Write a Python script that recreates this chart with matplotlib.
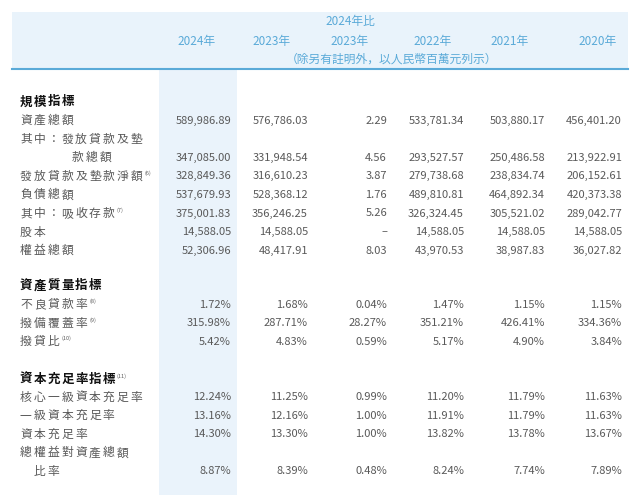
import matplotlib
matplotlib.use('agg')
import matplotlib.pyplot as plt
from matplotlib.patches import Rectangle

plt.rcParams['font.family'] = ['Noto Sans CJK JP', 'Noto Sans CJK TC', 'DejaVu Sans']

years = ['2024年', '2023年', '2023年', '2022年', '2021年', '2020年']

scale_labels = ['資產總額', '其中：發放貸款及墊', '款總額', '發放貸款及墊款淨額', '負債總額', '其中：吸收存款', '股本', '權益總額']
scale_notes = ['', '', '', '(6)', '', '(7)', '', '']
scale_vals = [
    ['589,986.89', '576,786.03', '2.29', '533,781.34', '503,880.17', '456,401.20'],
    None,
    ['347,085.00', '331,948.54', '4.56', '293,527.57', '250,486.58', '213,922.91'],
    ['328,849.36', '316,610.23', '3.87', '279,738.68', '238,834.74', '206,152.61'],
    ['537,679.93', '528,368.12', '1.76', '489,810.81', '464,892.34', '420,373.38'],
    ['375,001.83', '356,246.25', '5.26', '326,324.45', '305,521.02', '289,042.77'],
    ['14,588.05', '14,588.05', '–', '14,588.05', '14,588.05', '14,588.05'],
    ['52,306.96', '48,417.91', '8.03', '43,970.53', '38,987.83', '36,027.82'],
]
quality_labels = ['不良貸款率', '撥備覆蓋率', '撥貸比']
quality_notes = ['(8)', '(9)', '(10)']
quality_vals = [
    ['1.72%', '1.68%', '0.04%', '1.47%', '1.15%', '1.15%'],
    ['315.98%', '287.71%', '28.27%', '351.21%', '426.41%', '334.36%'],
    ['5.42%', '4.83%', '0.59%', '5.17%', '4.90%', '3.84%'],
]
capital_labels = ['核心一級資本充足率', '一級資本充足率', '資本充足率', '總權益對資產總額', '比率']
capital_vals = [
    ['12.24%', '11.25%', '0.99%', '11.20%', '11.79%', '11.63%'],
    ['13.16%', '12.16%', '1.00%', '11.91%', '11.79%', '11.63%'],
    ['14.30%', '13.30%', '1.00%', '13.82%', '13.78%', '13.67%'],
    None,
    ['8.87%', '8.39%', '0.48%', '8.24%', '7.74%', '7.89%'],
]

blue = '#5aaad8'
grey = '#595959'
col_right = [231, 308, 387, 464, 545, 622]
col_head = [197, 272, 350, 433, 510, 598]
pitch = 13.8

fig = plt.figure(figsize=(6.4, 4.95), dpi=100)
ax = fig.add_axes([0, 0, 1, 1])
ax.set_xlim(0, 640)
ax.set_ylim(495, 0)
ax.axis('off')

# header band, rule and highlighted 2024 column
ax.add_patch(Rectangle((12, 12), 616, 56, color='#e9f3fb', lw=0))
ax.plot([12, 628], [68.5, 68.5], color=blue, lw=1.5)
ax.add_patch(Rectangle((159, 70), 78, 425, color='#eaf3fb', lw=0))

ax.text(350, 22, '2024年比', color=blue, fontsize=8.5, ha='center', va='center')
for x, y in zip(col_head, years):
    ax.text(x, 42, y, color=blue, fontsize=8.5, ha='center', va='center')
ax.text(392, 59, '（除另有註明外，以人民幣百萬元列示）', color=blue, fontsize=8.5,
        ha='center', va='center', style='italic')

def spaced(x, y, s, **kw):
    # draw characters one by one to mimic the wide letter spacing
    for i, ch in enumerate(s):
        ax.text(x + i * pitch, y, ch, va='center', **kw)
    return x + len(s) * pitch

def section(title, note, y):
    end = spaced(20, y, title, color='#111111', fontsize=9, fontweight='bold')
    if note:
        ax.text(end, y - 3, note, color=grey, fontsize=4, va='center')

def rows(labels, notes, vals, y0, step=18.6):
    for i, lab in enumerate(labels):
        y = y0 + i * step
        x = 20
        if lab == '款總額':
            x = 72
        elif lab == '比率':
            x = 34
        end = spaced(x, y, lab, color=grey, fontsize=8.5)
        if notes and notes[i]:
            ax.text(end, y - 3, notes[i], color=grey, fontsize=4, va='center')
        if vals[i] is not None:
            for xr, v in zip(col_right, vals[i]):
                ax.text(xr, y, v, color=grey, fontsize=8, ha='right', va='center')

section('規模指標', '', 102)
rows(scale_labels, scale_notes, scale_vals, 120.5)
section('資產質量指標', '', 286)
rows(quality_labels, quality_notes, quality_vals, 304.5)
section('資本充足率指標', '(11)', 379)
rows(capital_labels, None, capital_vals, 397)

fig.savefig('out.png', dpi=100)
